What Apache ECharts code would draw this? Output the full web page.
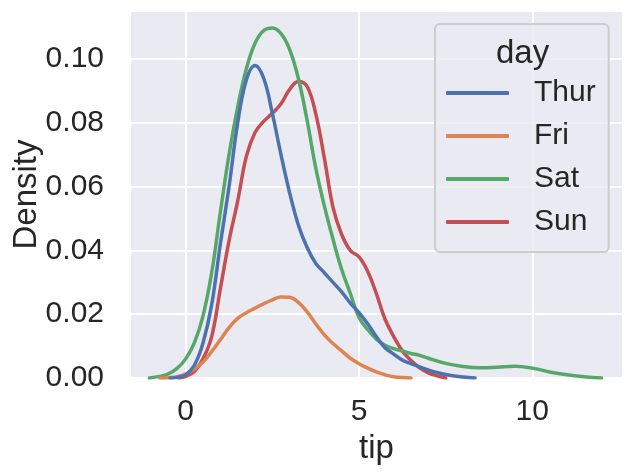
<!DOCTYPE html>
<html>
<head>
<meta charset="utf-8">
<script src="https://cdn.jsdelivr.net/npm/echarts@6/dist/echarts.min.js"></script>
<style>
  html, body { margin: 0; padding: 0; background: #ffffff; }
  #chart { width: 633px; height: 475px; }
</style>
</head>
<body>
<div id="chart"></div>
<script>
// values (kde of tip by day)
var days = ['Thur', 'Fri', 'Sat', 'Sun'];
var dayColors = ['#4C72B0', '#DD8452', '#55A868', '#C44E52'];

var thurTip = [-0.45, -0.25, 0, 0.25, 0.5, 0.75, 1.0, 1.25, 1.5, 1.75, 2.0, 2.25, 2.5, 2.75, 3.0, 3.25, 3.5, 3.75, 4.0, 4.25, 4.5, 4.75, 5.0, 5.25, 5.5, 5.75, 6.0, 6.25, 6.5, 6.75, 7.0, 7.5, 8.0, 8.35];
var thurDensity = [0, 0.0002, 0.001, 0.004, 0.011, 0.023, 0.042, 0.060, 0.080, 0.0935, 0.098, 0.094, 0.083, 0.070, 0.058, 0.048, 0.041, 0.036, 0.033, 0.030, 0.027, 0.0235, 0.0205, 0.017, 0.013, 0.0095, 0.0075, 0.0056, 0.0045, 0.0035, 0.0025, 0.0011, 0.0003, 0];

var friTip = [-0.75, -0.5, -0.25, 0, 0.25, 0.5, 0.75, 1.0, 1.25, 1.5, 1.75, 2.0, 2.25, 2.5, 2.75, 3.0, 3.25, 3.5, 3.75, 4.0, 4.25, 4.5, 4.75, 5.0, 5.25, 5.5, 5.75, 6.0, 6.5];
var friDensity = [0, 0.0001, 0.0004, 0.0012, 0.0028, 0.005, 0.0083, 0.012, 0.0158, 0.0187, 0.0205, 0.0219, 0.0233, 0.0245, 0.0254, 0.0253, 0.0237, 0.0208, 0.0170, 0.0135, 0.0108, 0.0085, 0.0062, 0.0045, 0.0031, 0.0019, 0.0010, 0.0004, 0];

var satTip = [-1.05, -0.75, -0.5, -0.25, 0, 0.25, 0.5, 0.75, 1.0, 1.25, 1.5, 1.75, 2.0, 2.25, 2.5, 2.75, 3.0, 3.25, 3.5, 3.75, 4.0, 4.25, 4.5, 4.75, 5.0, 5.25, 5.5, 5.75, 6.0, 6.25, 6.5, 6.75, 7.0, 7.5, 8.0, 8.5, 9.0, 9.5, 10.0, 10.5, 11.0, 11.5, 12.0];
var satDensity = [0, 0.0005, 0.0013, 0.003, 0.006, 0.011, 0.0195, 0.033, 0.052, 0.070, 0.085, 0.097, 0.105, 0.109, 0.1098, 0.108, 0.103, 0.094, 0.081, 0.066, 0.054, 0.0435, 0.034, 0.0265, 0.019, 0.0152, 0.0122, 0.0103, 0.0092, 0.0085, 0.0077, 0.0071, 0.0062, 0.0046, 0.0036, 0.0032, 0.0034, 0.0037, 0.0031, 0.0019, 0.0010, 0.0004, 0];

var sunTip = [-0.2, 0, 0.25, 0.5, 0.75, 1.0, 1.25, 1.5, 1.75, 2.0, 2.25, 2.5, 2.75, 3.0, 3.25, 3.5, 3.75, 4.0, 4.25, 4.5, 4.75, 5.0, 5.25, 5.5, 5.75, 6.0, 6.25, 6.5, 6.75, 7.0, 7.25, 7.5];
var sunDensity = [0, 0.0005, 0.002, 0.006, 0.013, 0.028, 0.043, 0.0555, 0.0695, 0.077, 0.0805, 0.083, 0.086, 0.0905, 0.093, 0.0915, 0.083, 0.069, 0.0535, 0.045, 0.040, 0.038, 0.0335, 0.0265, 0.0185, 0.013, 0.0085, 0.0055, 0.0032, 0.0016, 0.0007, 0];

var xTicks = [0, 5, 10];
var yTicks = [0, 0.02, 0.04, 0.06, 0.08, 0.10];

var pairs = function(xs, ys) {
	var out = [];
	for (var i = 0; i < xs.length; i++) {
		out.push([xs[i], ys[i]]);
	}
	return out;
};

var isTick = function(v, list) {
	for (var i = 0; i < list.length; i++) {
		if (Math.abs(v - list[i]) < 1e-9) return true;
	}
	return false;
};

var font = 'Liberation Sans';
var textColor = '#262626';

var makeSeries = function(name, idx, xs, ys) {
	return {
		name: name,
		type: 'line',
		data: pairs(xs, ys),
		showSymbol: false,
		smooth: 0.4,
		lineStyle: { color: dayColors[idx], width: 3.5, cap: 'round' },
		itemStyle: { color: dayColors[idx] }
	};
};

var option = {
	animation: false,
	backgroundColor: '#ffffff',
	textStyle: { fontFamily: font },
	title: {
		text: 'day',
		left: 491,
		top: 32,
		textStyle: { fontFamily: font, fontSize: 33, fontWeight: 'normal', color: textColor }
	},
	grid: {
		left: 130,
		right: 10,
		top: 11,
		bottom: 97,
		outerBoundsMode: 'none',
		show: true,
		backgroundColor: '#EAEAF2',
		borderWidth: 0
	},
	legend: {
		data: days,
		orient: 'vertical',
		left: 435,
		top: 24,
		padding: [54, 13, 15, 11],
		itemWidth: 63,
		itemHeight: 4,
		itemGap: 13,
		icon: 'roundRect',
		backgroundColor: 'rgba(234,234,242,0.8)',
		borderColor: '#cccccc',
		borderWidth: 2,
		borderRadius: 5,
		textStyle: { fontFamily: font, fontSize: 30, color: textColor, padding: [0, 0, 0, 20] }
	},
	xAxis: {
		type: 'value',
		min: -1.607,
		max: 12.617,
		splitNumber: 3,
		name: 'tip',
		nameLocation: 'middle',
		nameGap: 54,
		nameMoveOverlap: false,
		nameTextStyle: { fontFamily: font, fontSize: 33, color: textColor },
		axisLine: { show: false },
		axisTick: { show: false },
		axisLabel: {
			margin: 19,
			fontFamily: font,
			fontSize: 30,
			color: textColor,
			showMinLabel: false,
			showMaxLabel: false,
			formatter: function(v) { return isTick(v, xTicks) ? String(v) : ''; }
		},
		splitLine: { show: true, lineStyle: { color: '#ffffff', width: 2 } }
	},
	yAxis: {
		type: 'value',
		min: 0,
		max: 0.1151,
		interval: 0.02,
		name: 'Density',
		nameLocation: 'middle',
		nameGap: 87,
		nameMoveOverlap: false,
		nameTextStyle: { fontFamily: font, fontSize: 33, color: textColor },
		axisLine: { show: false },
		axisTick: { show: false },
		axisLabel: {
			margin: 26,
			fontFamily: font,
			fontSize: 30,
			color: textColor,
			formatter: function(v) { return isTick(v, yTicks) ? v.toFixed(2) : ''; }
		},
		splitLine: { show: true, lineStyle: { color: '#ffffff', width: 2 } }
	},
	// drawn Sun first so Thur ends up on top, like seaborn
	series: [
		makeSeries('Sun', 3, sunTip, sunDensity),
		makeSeries('Sat', 2, satTip, satDensity),
		makeSeries('Fri', 1, friTip, friDensity),
		makeSeries('Thur', 0, thurTip, thurDensity)
	]
};

var chart = echarts.init(document.getElementById('chart'));
chart.setOption(option);
</script>
</body>
</html>
